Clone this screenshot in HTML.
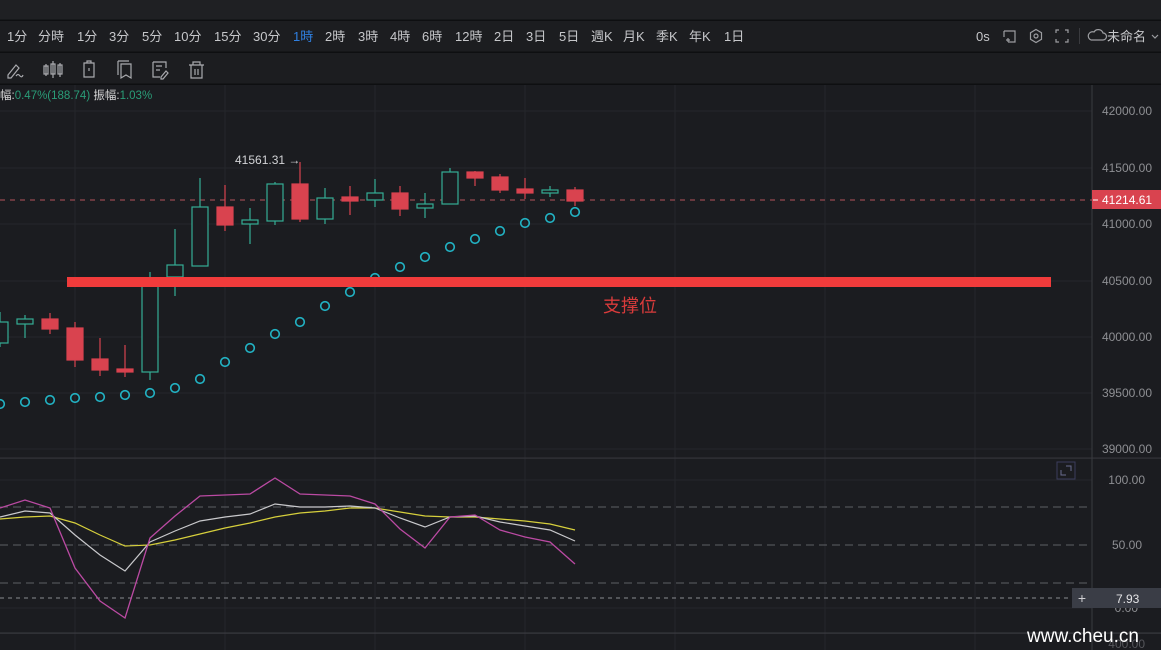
<!DOCTYPE html>
<html><head><meta charset="utf-8"><style>
html,body{margin:0;padding:0;background:#1b1c20;width:1161px;height:650px;overflow:hidden}
svg{display:block}
text{font-family:"Liberation Sans","Noto Sans CJK SC",sans-serif}
</style></head><body>
<svg width="1161" height="650" viewBox="0 0 1161 650" xmlns="http://www.w3.org/2000/svg">
<rect x="0" y="0" width="1161" height="650" fill="#1b1c20"/>
<rect x="0" y="0" width="1161" height="20" fill="#1f2023"/>
<rect x="0" y="21" width="1161" height="31" fill="#1c1d20"/>
<rect x="0" y="53" width="1161" height="31" fill="#1c1d20"/>
<rect x="0" y="19.5" width="1161" height="1.5" fill="#0e0f11"/>
<rect x="0" y="51.5" width="1161" height="1.5" fill="#0e0f11"/>
<rect x="0" y="83.5" width="1161" height="1.5" fill="#0e0f11"/>

<!-- timeframe toolbar -->
<g font-size="13" fill="#c6c7ca">
<text x="7" y="41">1分</text>
<text x="38" y="41">分時</text>
<text x="77" y="41">1分</text>
<text x="109" y="41">3分</text>
<text x="142" y="41">5分</text>
<text x="174" y="41">10分</text>
<text x="214" y="41">15分</text>
<text x="253" y="41">30分</text>
<text x="293" y="41" fill="#2f7fe0">1時</text>
<text x="325" y="41">2時</text>
<text x="358" y="41">3時</text>
<text x="390" y="41">4時</text>
<text x="422" y="41">6時</text>
<text x="455" y="41">12時</text>
<text x="494" y="41">2日</text>
<text x="526" y="41">3日</text>
<text x="559" y="41">5日</text>
<text x="591" y="41">週K</text>
<text x="623" y="41">月K</text>
<text x="656" y="41">季K</text>
<text x="689" y="41">年K</text>
<text x="724" y="41">1日</text>
<text x="976" y="41">0s</text>
<text x="1107" y="41">未命名</text>
</g>
<g stroke="#9c9da1" stroke-width="1.2" fill="none">
<path d="M1004 31 h11 v11 h-7 M1004 31 v6 M1006 40 h4 M1008 38 v4"/>
<path d="M1036 29.5 l5.5 3.2 v6.6 l-5.5 3.2 l-5.5 -3.2 v-6.6 z"/><circle cx="1036" cy="36" r="2"/>
<path d="M1056 33 v-3 h3 M1065 30 h3 v3 M1068 39 v3 h-3 M1059 42 h-3 v-3"/>
<path d="M1091 40 h12 a3.5 3.5 0 0 0 0 -7 a5 5 0 0 0 -9 -1 a4 4 0 0 0 -3 8 z"/>
<path d="M1152 35 l3 3 l3 -3"/>
</g>
<rect x="1079" y="28" width="1" height="16" fill="#3a3b3f"/>

<!-- drawing toolbar icons -->
<g stroke="#a9aaae" stroke-width="1.2" fill="none">
<path d="M8 75 l8 -10 l3 3 l-8 10 l-3 0 z M16 76 q2 -3 4 0 q2 2 3 -1"/>
<path d="M46 64 v12 M44 66 h4 v8 h-4 z M53 61 v17 M51 64 h4 v10 h-4 z M60 63 v14 M58 65 h4 v9 h-4 z"/>
<path d="M84 63 h10 v14 h-10 z M87 63 v-2 h4 v2 M89 68 v3"/>
<path d="M118 61 h11 M118 61 v14 M121 64 h10 v14 l-5 -3 l-5 3 z"/>
<path d="M153 62 h13 v6 M153 62 v15 h7 M156 66 h6 M156 70 h4 M161 77 l5 -6 l2 2 l-5 6 h-2 z"/>
<path d="M189 65 h15 M193 65 v-3 h7 v3 M191 65 v13 h11 v-13 M195 69 v6 M198 69 v6"/>
</g>

<!-- grid main -->
<g stroke="#25262b" stroke-width="1">
<line x1="0" y1="111" x2="1092" y2="111"/>
<line x1="0" y1="168" x2="1092" y2="168"/>
<line x1="0" y1="224" x2="1092" y2="224"/>
<line x1="0" y1="281" x2="1092" y2="281"/>
<line x1="0" y1="337" x2="1092" y2="337"/>
<line x1="0" y1="393" x2="1092" y2="393"/>
<line x1="0" y1="449" x2="1092" y2="449"/>
<line x1="0" y1="480" x2="1092" y2="480"/>
<line x1="0" y1="608" x2="1092" y2="608"/>
<line x1="75" y1="85" x2="75" y2="650"/>
<line x1="225" y1="85" x2="225" y2="650"/>
<line x1="375" y1="85" x2="375" y2="650"/>
<line x1="525" y1="85" x2="525" y2="650"/>
<line x1="675" y1="85" x2="675" y2="650"/>
<line x1="825" y1="85" x2="825" y2="650"/>
<line x1="975" y1="85" x2="975" y2="650"/>
</g>
<rect x="0" y="457.5" width="1161" height="1.2" fill="#34353a"/>
<rect x="0" y="632.5" width="1161" height="1.2" fill="#3a3b40"/>
<rect x="1091.5" y="85" width="1" height="565" fill="#3a3b40"/>

<!-- info row -->
<g font-size="11.5">
<text x="0" y="99" fill="#d8d8d8">幅:<tspan fill="#2a9d78">0.47%(188.74)</tspan> <tspan fill="#d8d8d8">振幅:</tspan><tspan fill="#2a9d78">1.03%</tspan></text>
</g>

<!-- current price dashed line -->
<line x1="0" y1="200" x2="1092" y2="200" stroke="#b4545c" stroke-width="1" stroke-dasharray="5 5"/>

<!-- candles -->
<g stroke-width="1.2">
<!-- green hollow -->
<g stroke="#34ad95" fill="#1b1c20">
<path d="M0 312 v10 M0 343 v4"/><rect x="-8" y="322" width="16" height="21"/>
<path d="M25 315 v4 M25 324 v14"/><rect x="17" y="319" width="16" height="5"/>
<path d="M150 272 v11 M150 372 v8"/><rect x="142" y="283" width="16" height="89"/>
<path d="M175 229 v36 M175 277 v19"/><rect x="167" y="265" width="16" height="12"/>
<path d="M200 178 v29"/><rect x="192" y="207" width="16" height="59"/>
<path d="M250 208 v12 M250 224 v20"/><rect x="242" y="220" width="16" height="4"/>
<path d="M275 182 v2 M275 221 v4"/><rect x="267" y="184" width="16" height="37"/>
<path d="M325 188 v10 M325 219 v5"/><rect x="317" y="198" width="16" height="21"/>
<path d="M375 179 v14 M375 200 v7"/><rect x="367" y="193" width="16" height="7"/>
<path d="M425 193 v11 M425 208 v10"/><rect x="417" y="204" width="16" height="4"/>
<path d="M450 168 v4"/><rect x="442" y="172" width="16" height="32"/>
<path d="M550 186 v4 M550 193 v4"/><rect x="542" y="190" width="16" height="3"/>
</g>
<!-- red filled -->
<g stroke="#d9434f" fill="#d9434f">
<line x1="50" y1="313" x2="50" y2="334"/><rect x="42" y="319" width="16" height="10"/>
<line x1="75" y1="322" x2="75" y2="367"/><rect x="67" y="328" width="16" height="32"/>
<line x1="100" y1="338" x2="100" y2="376"/><rect x="92" y="359" width="16" height="11"/>
<line x1="125" y1="345" x2="125" y2="377"/><rect x="117" y="369" width="16" height="3"/>
<line x1="225" y1="185" x2="225" y2="231"/><rect x="217" y="207" width="16" height="18"/>
<line x1="300" y1="162" x2="300" y2="222"/><rect x="292" y="184" width="16" height="35"/>
<line x1="350" y1="186" x2="350" y2="215"/><rect x="342" y="197" width="16" height="4"/>
<line x1="400" y1="186" x2="400" y2="216"/><rect x="392" y="193" width="16" height="16"/>
<line x1="475" y1="171" x2="475" y2="186"/><rect x="467" y="172" width="16" height="6"/>
<line x1="500" y1="174" x2="500" y2="193"/><rect x="492" y="177" width="16" height="13"/>
<line x1="525" y1="178" x2="525" y2="199"/><rect x="517" y="189" width="16" height="4"/>
<line x1="575" y1="187" x2="575" y2="206"/><rect x="567" y="190" width="16" height="11"/>
</g>
</g>

<!-- SAR dots -->
<g stroke="#22b3c4" stroke-width="1.6" fill="none">
<circle cx="0" cy="404" r="4.3"/><circle cx="25" cy="402" r="4.3"/><circle cx="50" cy="400" r="4.3"/>
<circle cx="75" cy="398" r="4.3"/><circle cx="100" cy="397" r="4.3"/><circle cx="125" cy="395" r="4.3"/>
<circle cx="150" cy="393" r="4.3"/><circle cx="175" cy="388" r="4.3"/><circle cx="200" cy="379" r="4.3"/>
<circle cx="225" cy="362" r="4.3"/><circle cx="250" cy="348" r="4.3"/><circle cx="275" cy="334" r="4.3"/>
<circle cx="300" cy="322" r="4.3"/><circle cx="325" cy="306" r="4.3"/><circle cx="350" cy="292" r="4.3"/>
<circle cx="375" cy="278" r="4.3"/><circle cx="400" cy="267" r="4.3"/><circle cx="425" cy="257" r="4.3"/>
<circle cx="450" cy="247" r="4.3"/><circle cx="475" cy="239" r="4.3"/><circle cx="500" cy="231" r="4.3"/>
<circle cx="525" cy="223" r="4.3"/><circle cx="550" cy="218" r="4.3"/><circle cx="575" cy="212" r="4.3"/>
</g>

<!-- support line -->
<rect x="67" y="277" width="984" height="10" fill="#f03b3b"/>
<text x="603" y="312" font-size="18" fill="#d93b3b">支撑位</text>

<!-- high label -->
<text x="235" y="164" font-size="12" fill="#d2d3d6">41561.31 →</text>

<!-- price axis -->
<g font-size="12" fill="#8e8f93" text-anchor="end">
<text x="1152" y="115">42000.00</text>
<text x="1152" y="172">41500.00</text>
<text x="1152" y="228">41000.00</text>
<text x="1152" y="285">40500.00</text>
<text x="1152" y="341">40000.00</text>
<text x="1152" y="397">39500.00</text>
<text x="1152" y="453">39000.00</text>
</g>
<rect x="1092" y="190" width="69" height="19" fill="#d9434f"/>
<line x1="1093" y1="200" x2="1098" y2="200" stroke="#fff" stroke-width="1"/>
<text x="1102" y="204" font-size="12" fill="#ffffff">41214.61</text>

<!-- indicator pane -->
<g stroke="#5e5f64" stroke-width="1">
<line x1="0" y1="507" x2="1088" y2="507" stroke-dasharray="8 5"/>
<line x1="0" y1="545" x2="1088" y2="545" stroke-dasharray="8 5"/>
<line x1="0" y1="583" x2="1088" y2="583" stroke-dasharray="8 5"/>
<line x1="0" y1="598" x2="1088" y2="598" stroke-dasharray="4 4" stroke="#8a8b90"/>
</g>
<polyline fill="none" stroke="#d6cf3c" stroke-width="1.2" points="0,519 25,517 50,516 75,523 100,535 125,546 150,545 175,540 200,534 225,528 250,523 275,517 300,513 325,511 350,508 375,508 400,512 425,516 450,517 475,517 500,519 525,521 550,524 575,530"/>
<polyline fill="none" stroke="#c9c9cc" stroke-width="1.2" points="0,517 25,511 50,513 75,535 100,555 125,571 150,542 175,531 200,521 225,517 250,514 275,504 300,507 325,507 350,506 375,508 400,518 425,527 450,517 475,516 500,522 525,526 550,530 575,541"/>
<polyline fill="none" stroke="#bb4aa3" stroke-width="1.3" points="0,508 25,500 50,508 75,568 100,601 125,618 150,538 175,516 200,496 225,495 250,494 275,478 300,494 325,495 350,496 375,504 400,529 425,548 450,517 475,515 500,530 525,537 550,542 575,564"/>

<rect x="1057" y="462" width="18" height="17" fill="none" stroke="#3b3d5c" stroke-width="1"/>
<path d="M1061 470 v5 h5 M1066 466 h5 v5" fill="none" stroke="#6a6c90" stroke-width="1"/>

<g font-size="12" fill="#8e8f93" text-anchor="end">
<text x="1145" y="484">100.00</text>
<text x="1142" y="549">50.00</text>
<text x="1138" y="612">0.00</text>
<text x="1145" y="648" fill="#55565b">400.00</text>
</g>
<rect x="1072" y="588" width="89" height="20" fill="#3a3d46"/>
<text x="1082" y="603" font-size="14" fill="#d0d0d4" text-anchor="middle">+</text>
<text x="1116" y="603" font-size="12" fill="#e4e4e6">7.93</text>

<text x="1027" y="642" font-size="19" fill="#ffffff">www.cheu.cn</text>
</svg>
</body></html>
